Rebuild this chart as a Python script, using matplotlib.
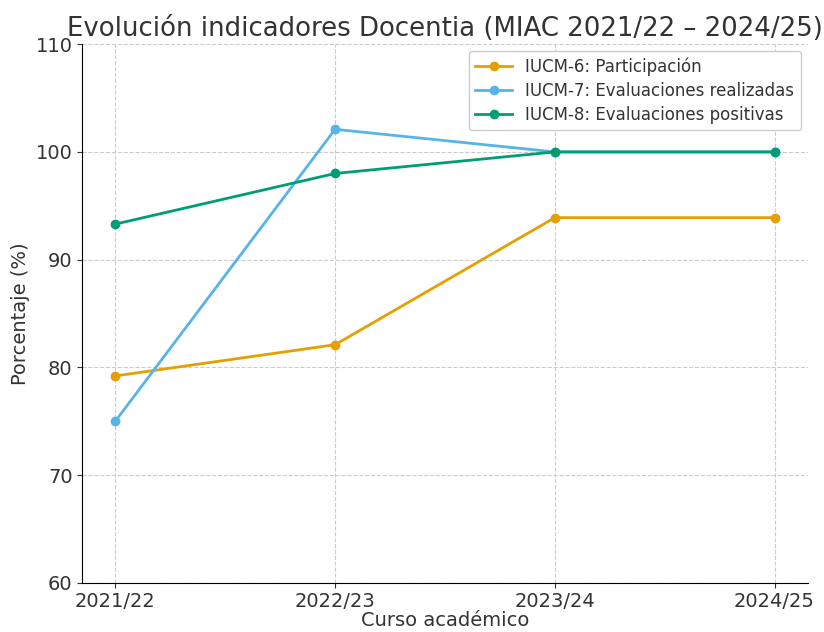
import matplotlib
matplotlib.use("Agg")
import matplotlib.pyplot as plt

cursos = ["2021/22", "2022/23", "2023/24", "2024/25"]
iucm6 = [79.2, 82.1, 93.9, 93.9]
iucm7 = [75.0, 102.1, 100.0, 100.0]
iucm8 = [93.3, 98.0, 100.0, 100.0]

fig, ax = plt.subplots(figsize=(8.24, 6.32), dpi=100)

ax.plot(cursos, iucm6, marker="o", color="#E69F00", lw=2, label="IUCM-6: Participación")
ax.plot(cursos, iucm7, marker="o", color="#56B4E9", lw=2, label="IUCM-7: Evaluaciones realizadas")
ax.plot(cursos, iucm8, marker="o", color="#009E73", lw=2, label="IUCM-8: Evaluaciones positivas")

ax.set_ylim(60, 110)
ax.set_title("Evolución indicadores Docentia (MIAC 2021/22 – 2024/25)", fontsize=18.7, color="#333333")
ax.set_xlabel("Curso académico", fontsize=14, color="#333333", labelpad=0)
ax.set_ylabel("Porcentaje (%)", fontsize=14, color="#333333")
ax.tick_params(labelsize=14, colors="#333333")
ax.grid(True, linestyle="--", color="#cccccc", lw=0.8)
ax.spines["top"].set_visible(False)
ax.spines["right"].set_visible(False)
ax.legend(loc="upper right", fontsize=12, framealpha=1, edgecolor="#cccccc",
          borderaxespad=0.4, handlelength=2.2, labelspacing=0.35, labelcolor="#333333")

plt.subplots_adjust(left=0.1, right=0.98, top=0.93, bottom=0.078)
plt.savefig("out.png", dpi=100)
